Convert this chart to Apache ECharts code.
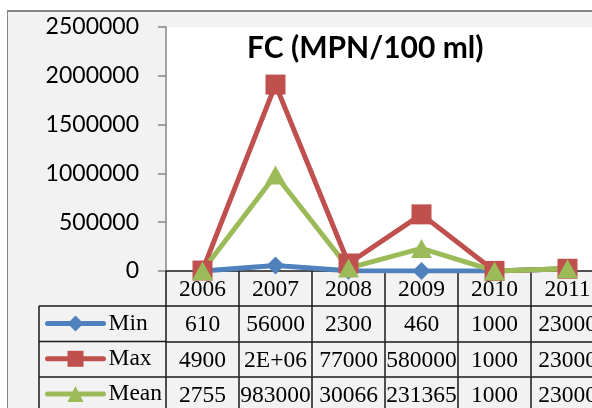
<!DOCTYPE html>
<html lang="en">
<head>
<meta charset="UTF-8">
<title>FC (MPN/100 ml)</title>
<script type="text/javascript" src="https://cdn.jsdelivr.net/npm/echarts@6.0.0/dist/echarts.min.js"></script>
<style>
    body { margin: 0; background: #fff; overflow: hidden; }
    #frame { position: absolute; left: 7px; top: 10px; width: 700px; height: 500px;
             background: #f2f2f2; border-left: 1.5px solid #868686; border-top: 2px solid #868686; }
    #main { position: absolute; left: 0; top: 0; width: 592px; height: 408px; }
</style>
</head>
<body>
<div id="frame"></div>
<div id="main"></div>
<script type="text/javascript">
    var years = ['2006', '2007', '2008', '2009', '2010', '2011'];
    var minVals = [610, 56000, 2300, 460, 1000, 23000];
    var maxVals = [4900, 1910000, 77000, 580000, 1000, 23000];
    var meanVals = [2755, 983000, 30066, 231365, 1000, 23000];
    var yTicks = [0, 500000, 1000000, 1500000, 2000000, 2500000];

    var serif = '"Liberation Serif", "Times New Roman", serif';
    var sans = 'Lato, "Liberation Sans", sans-serif';
    var tableLine = { color: '#1a1a1a', width: 1.5 };
    var cellFont = 23.5;

    // Excel "General" style: big numbers go to 2E+06
    function cell(v) {
        if (v >= 1000000) {
            var p = v.toExponential(0).split('e');
            var ex = Math.abs(parseInt(p[1], 10));
            return p[0] + 'E+' + (ex < 10 ? '0' : '') + ex;
        }
        return String(v);
    }

    function rowAxis(vals, offset) {
        return {
            type: 'category',
            data: years,
            position: 'bottom',
            offset: offset,
            axisLine: { lineStyle: tableLine },
            axisTick: { show: true, length: 35, lineStyle: tableLine },
            axisLabel: {
                interval: 0, margin: 7, fontFamily: serif, fontSize: cellFont, color: '#000',
                formatter: function (v, i) { return cell(vals[i]); }
            },
            splitLine: { show: false }
        };
    }

    var chart = echarts.init(document.getElementById('main'));

    chart.setOption({
        backgroundColor: 'transparent',
        animation: false,
        title: {
            text: 'FC (MPN/100 ml)',
            left: 247,
            top: 33,
            padding: 0,
            textStyle: { fontFamily: sans, fontWeight: 'bold', fontSize: 30, color: '#000' }
        },
        legend: {
            orient: 'vertical',
            left: 45,
            top: 311.5,
            padding: 0,
            itemWidth: 56,
            itemHeight: 20,
            itemGap: 11.3,
            lineStyle: { width: 5, cap: 'round' },
            textStyle: { fontFamily: serif, fontSize: cellFont, lineHeight: 24, color: '#000' },
            data: ['Min', 'Max', 'Mean']
        },
        grid: {
            left: 166, top: 27, width: 438, height: 244,
            outerBoundsMode: 'none',
            show: true, backgroundColor: '#fff', borderWidth: 0
        },
        xAxis: [
            {
                type: 'category',
                data: years,
                position: 'bottom',
                axisLine: { lineStyle: tableLine },
                axisTick: { show: true, length: 35, lineStyle: tableLine },
                axisLabel: { interval: 0, margin: 7, fontFamily: serif, fontSize: cellFont, color: '#000' },
                splitLine: { show: false }
            },
            rowAxis(minVals, 35),
            rowAxis(maxVals, 70.5),
            rowAxis(meanVals, 106)
        ],
        yAxis: {
            type: 'value',
            min: yTicks[0],
            max: yTicks[yTicks.length - 1],
            interval: yTicks[1] - yTicks[0],
            axisLine: { show: true, lineStyle: { color: '#868686', width: 1.5 } },
            axisTick: { show: true, length: 8, lineStyle: { color: '#868686', width: 1.5 } },
            axisLabel: {
                margin: 27, fontFamily: sans, fontSize: 23, color: '#000',
                formatter: function (v) { return String(v); }
            },
            splitLine: { show: false }
        },
        graphic: [
            { type: 'line', shape: { x1: 39, y1: 306, x2: 166, y2: 306 }, style: { stroke: '#1a1a1a', lineWidth: 1.5 } },
            { type: 'line', shape: { x1: 39, y1: 341.5, x2: 166, y2: 341.5 }, style: { stroke: '#1a1a1a', lineWidth: 1.5 } },
            { type: 'line', shape: { x1: 39, y1: 377, x2: 166, y2: 377 }, style: { stroke: '#1a1a1a', lineWidth: 1.5 } },
            { type: 'line', shape: { x1: 39, y1: 306, x2: 39, y2: 420 }, style: { stroke: '#1a1a1a', lineWidth: 1.5 } }
        ],
        series: [
            {
                name: 'Min', type: 'line', data: minVals,
                symbol: 'diamond', symbolSize: 18,
                itemStyle: { color: '#4f81bd' },
                lineStyle: { color: '#4f81bd', width: 5 }
            },
            {
                name: 'Max', type: 'line', data: maxVals,
                symbol: 'rect', symbolSize: 20,
                itemStyle: { color: '#c0504d' },
                lineStyle: { color: '#c0504d', width: 5 }
            },
            {
                name: 'Mean', type: 'line', data: meanVals,
                symbol: 'triangle', symbolSize: [21, 19],
                itemStyle: { color: '#9bbb59' },
                lineStyle: { color: '#9bbb59', width: 5 }
            }
        ]
    });
</script>
</body>
</html>
